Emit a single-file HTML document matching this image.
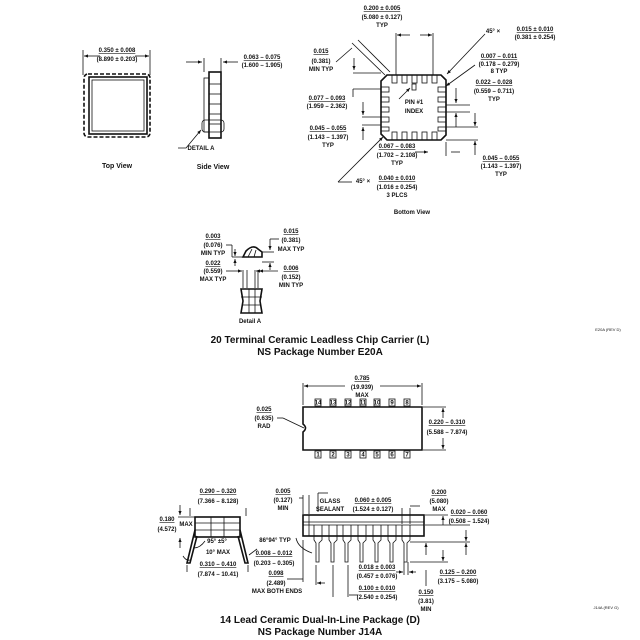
<!DOCTYPE html>
<html><head><style>
html,body{margin:0;padding:0;background:#fff}
svg{display:block}
text{font-family:"Liberation Sans",sans-serif;font-size:6px;font-weight:bold;fill:#111;text-anchor:middle}
.t{font-size:10px}
.v{font-size:7px}
.s{font-size:4px;font-weight:normal}
line,path,rect,polyline,polygon,circle{stroke:#111;stroke-width:0.8;fill:none}
.th{stroke-width:1.6}
</style></head><body>
<svg width="640" height="640" viewBox="0 0 640 640" xmlns="http://www.w3.org/2000/svg">
<defs><marker id="a" markerWidth="6" markerHeight="6" refX="5" refY="3" orient="auto"><path d="M0,1 L5,3 L0,5 z" style="fill:#111;stroke:none"/></marker></defs>

<!-- TOP VIEW -->
<text x="117" y="52" text-decoration="underline">0.350 ± 0.008</text>
<text x="117" y="61">(8.890 ± 0.203)</text>
<line x1="83" y1="50" x2="83" y2="75"/><line x1="150" y1="50" x2="150" y2="75"/>
<line x1="100" y1="56" x2="84" y2="56" marker-end="url(#a)"/><line x1="135" y1="56" x2="149" y2="56" marker-end="url(#a)"/>
<rect x="84" y="74" width="66" height="63" rx="4" class="th" stroke-dasharray="4,2"/>
<rect x="89" y="77" width="58" height="57" class="th"/>
<rect x="92" y="80" width="52" height="51"/>
<text x="117" y="168" class="v">Top View</text>

<!-- SIDE VIEW -->
<rect x="209" y="72" width="12" height="66" class="th"/>
<rect x="204" y="78" width="5" height="54"/>
<line x1="209" y1="84" x2="221" y2="84"/><line x1="209" y1="94" x2="221" y2="94"/><line x1="209" y1="104" x2="221" y2="104"/><line x1="209" y1="114" x2="221" y2="114"/><line x1="209" y1="124" x2="221" y2="124"/>
<rect x="202" y="120" width="22" height="12" rx="3"/>
<line x1="186" y1="62" x2="202" y2="62" marker-end="url(#a)"/><line x1="238" y1="62" x2="223" y2="62" marker-end="url(#a)"/>
<line x1="204" y1="58" x2="204" y2="72"/><line x1="221" y1="58" x2="221" y2="72"/>
<text x="262" y="59" text-decoration="underline">0.063 – 0.075</text>
<text x="262" y="67">(1.600 – 1.905)</text>
<polyline points="178,148 186,148 201,130" marker-end="url(#a)"/>
<text x="201" y="150">DETAIL A</text>
<text x="213" y="169" class="v">Side View</text>

<!-- BOTTOM VIEW -->
<polygon points="387,75 441,75 446,80 446,135 441,140 387,140 381,134 381,81" class="th"/>
<g>
<rect x="392" y="75" width="5" height="8"/><rect x="402" y="75" width="5" height="8"/><rect x="412" y="75" width="5" height="8"/><rect x="422" y="75" width="5" height="8"/><rect x="432" y="75" width="5" height="8"/>
<rect x="392" y="132" width="5" height="8"/><rect x="402" y="132" width="5" height="8"/><rect x="412" y="132" width="5" height="8"/><rect x="422" y="132" width="5" height="8"/><rect x="432" y="132" width="5" height="8"/>
<rect x="381" y="87" width="8" height="5"/><rect x="381" y="97" width="8" height="5"/><rect x="381" y="107" width="8" height="5"/><rect x="381" y="117" width="8" height="5"/><rect x="381" y="127" width="8" height="4"/>
<rect x="438" y="87" width="8" height="5"/><rect x="438" y="97" width="8" height="5"/><rect x="438" y="107" width="8" height="5"/><rect x="438" y="117" width="8" height="5"/><rect x="438" y="127" width="8" height="4"/>
</g>
<rect x="412" y="84" width="4" height="6"/>
<line x1="396" y1="33" x2="396" y2="75"/><line x1="433" y1="33" x2="433" y2="75"/>
<line x1="410" y1="35" x2="397" y2="35" marker-end="url(#a)"/><line x1="420" y1="35" x2="432" y2="35" marker-end="url(#a)"/>
<text x="382" y="10" text-decoration="underline">0.200 ± 0.005</text><text x="382" y="19">(5.080 ± 0.127)</text><text x="382" y="27">TYP</text>
<text x="493" y="33">45° ×</text>
<text x="535" y="31" text-decoration="underline">0.015 ± 0.010</text><text x="535" y="39">(0.381 ± 0.254)</text>
<line x1="485" y1="34" x2="447" y2="74" marker-end="url(#a)"/>
<text x="321" y="53" text-decoration="underline">0.015</text><text x="321" y="63">(0.381)</text><text x="321" y="71">MIN TYP</text>
<line x1="336" y1="62" x2="352" y2="48"/>
<line x1="352" y1="43" x2="385" y2="75"/><line x1="358" y1="40" x2="390" y2="72"/>
<line x1="354" y1="58" x2="354" y2="70" marker-end="url(#a)"/><line x1="353" y1="73" x2="381" y2="73"/>
<text x="499" y="58" text-decoration="underline">0.007 – 0.011</text><text x="499" y="66">(0.178 – 0.279)</text><text x="499" y="73">8 TYP</text>
<line x1="475" y1="65" x2="446" y2="86" marker-end="url(#a)"/>
<text x="494" y="84" text-decoration="underline">0.022 – 0.028</text><text x="494" y="93">(0.559 – 0.711)</text><text x="494" y="101">TYP</text>
<line x1="456" y1="88" x2="456" y2="103" marker-end="url(#a)"/><line x1="456" y1="127" x2="456" y2="113" marker-end="url(#a)"/>
<line x1="446" y1="105" x2="470" y2="105"/><line x1="446" y1="112" x2="470" y2="112"/>
<text x="327" y="100" text-decoration="underline">0.077 – 0.093</text><text x="327" y="108">(1.959 – 2.362)</text>
<line x1="353" y1="89" x2="381" y2="89"/><line x1="353" y1="89" x2="353" y2="97"/>
<line x1="399" y1="99" x2="410" y2="88" marker-end="url(#a)"/>
<text x="414" y="104">PIN #1</text><text x="414" y="113">INDEX</text>
<text x="328" y="130" text-decoration="underline">0.045 – 0.055</text><text x="328" y="139">(1.143 – 1.397)</text><text x="328" y="147">TYP</text>
<line x1="363" y1="102" x2="363" y2="115" marker-end="url(#a)"/><line x1="363" y1="140" x2="363" y2="127" marker-end="url(#a)"/>
<line x1="362" y1="117" x2="381" y2="117"/><line x1="362" y1="125" x2="381" y2="125"/>
<text x="397" y="148" text-decoration="underline">0.067 – 0.083</text><text x="397" y="157">(1.702 – 2.108)</text><text x="397" y="165">TYP</text>
<line x1="415" y1="152" x2="428" y2="152" marker-end="url(#a)"/>
<line x1="446" y1="127" x2="478" y2="127"/><line x1="446" y1="140" x2="478" y2="140"/>
<line x1="475" y1="113" x2="475" y2="126" marker-end="url(#a)"/><line x1="475" y1="155" x2="475" y2="141" marker-end="url(#a)"/>
<line x1="446" y1="142" x2="446" y2="156"/><line x1="451" y1="152" x2="460" y2="152"/>
<text x="501" y="160" text-decoration="underline">0.045 – 0.055</text><text x="501" y="168">(1.143 – 1.397)</text><text x="501" y="176">TYP</text>
<text x="363" y="183">45° ×</text>
<text x="397" y="180" text-decoration="underline">0.040 ± 0.010</text><text x="397" y="189">(1.016 ± 0.254)</text><text x="397" y="197">3 PLCS</text>
<line x1="338" y1="182" x2="352" y2="182"/><line x1="338" y1="182" x2="383" y2="137" marker-end="url(#a)"/>
<text x="412" y="214">Bottom View</text>

<!-- DETAIL A -->
<path d="M243,257 L246,251 Q253,244 258,249 L262,252 L262,257 Z" class="th"/>
<line x1="248" y1="257" x2="252" y2="249"/><line x1="254" y1="257" x2="256" y2="250"/>
<path d="M241,289 L262,289 L260,301 L262,313 L241,313 L243,301 Z" class="th"/>
<line x1="241" y1="297" x2="262" y2="297"/><line x1="242" y1="305" x2="261" y2="305"/><line x1="249" y1="289" x2="249" y2="313"/><line x1="255" y1="289" x2="255" y2="313"/>
<line x1="243" y1="270" x2="243" y2="288"/><line x1="247" y1="270" x2="247" y2="288"/><line x1="255" y1="270" x2="255" y2="288"/><line x1="258" y1="270" x2="258" y2="288"/>
<text x="213" y="238" text-decoration="underline">0.003</text><text x="213" y="247">(0.076)</text><text x="213" y="255">MIN TYP</text>
<line x1="226" y1="245" x2="232" y2="245"/><line x1="232" y1="245" x2="232" y2="257"/>
<line x1="235" y1="249" x2="235" y2="256" marker-end="url(#a)"/><line x1="235" y1="266" x2="235" y2="259" marker-end="url(#a)"/>
<line x1="232" y1="257" x2="243" y2="257"/>
<text x="213" y="265" text-decoration="underline">0.022</text><text x="213" y="273">(0.559)</text><text x="213" y="281">MAX TYP</text>
<line x1="226" y1="271" x2="242" y2="271" marker-end="url(#a)"/><line x1="263" y1="271" x2="256" y2="271" marker-end="url(#a)"/>
<text x="291" y="233" text-decoration="underline">0.015</text><text x="291" y="242">(0.381)</text><text x="291" y="251">MAX TYP</text>
<line x1="279" y1="239" x2="270" y2="239"/><line x1="270" y1="239" x2="270" y2="250" marker-end="url(#a)"/>
<line x1="262" y1="252" x2="274" y2="252"/><line x1="262" y1="262" x2="274" y2="262"/>
<line x1="270" y1="270" x2="270" y2="263" marker-end="url(#a)"/>
<text x="291" y="270" text-decoration="underline">0.006</text><text x="291" y="279">(0.152)</text><text x="291" y="287">MIN TYP</text>
<line x1="278" y1="271" x2="259" y2="271" marker-end="url(#a)"/>
<text x="250" y="323">Detail A</text>

<text x="320" y="343" class="t">20 Terminal Ceramic Leadless Chip Carrier (L)</text>
<text x="320" y="355" class="t">NS Package Number E20A</text>
<text x="608" y="331" class="s">E20A (REV D)</text>

<!-- DIP TOP -->
<path d="M303,407 L422,407 L422,450 L303,450 L303,432 Q308,428 303,424 Z" class="th"/>
<g>
<rect x="315" y="399" width="6" height="7"/><rect x="330" y="399" width="6" height="7"/><rect x="345" y="399" width="6" height="7"/><rect x="360" y="399" width="6" height="7"/><rect x="374" y="399" width="6" height="7"/><rect x="389" y="399" width="6" height="7"/><rect x="404" y="399" width="6" height="7"/>
<rect x="315" y="451" width="6" height="7"/><rect x="330" y="451" width="6" height="7"/><rect x="345" y="451" width="6" height="7"/><rect x="360" y="451" width="6" height="7"/><rect x="374" y="451" width="6" height="7"/><rect x="389" y="451" width="6" height="7"/><rect x="404" y="451" width="6" height="7"/>
</g>
<g style="font-size:4px;font-weight:normal">
<text x="318" y="404.5">14</text><text x="333" y="404.5">13</text><text x="348" y="404.5">12</text><text x="363" y="404.5">11</text><text x="377" y="404.5">10</text><text x="392" y="404.5">9</text><text x="407" y="404.5">8</text>
<text x="318" y="456.5">1</text><text x="333" y="456.5">2</text><text x="348" y="456.5">3</text><text x="363" y="456.5">4</text><text x="377" y="456.5">5</text><text x="392" y="456.5">6</text><text x="407" y="456.5">7</text>
</g>
<line x1="303" y1="383" x2="303" y2="405"/><line x1="422" y1="383" x2="422" y2="405"/>
<line x1="345" y1="386" x2="304" y2="386" marker-end="url(#a)"/><line x1="380" y1="386" x2="421" y2="386" marker-end="url(#a)"/>
<text x="362" y="380" text-decoration="underline">0.785</text><text x="362" y="389">(19.939)</text><text x="362" y="397">MAX</text>
<text x="264" y="411" text-decoration="underline">0.025</text><text x="264" y="420">(0.635)</text><text x="264" y="428">RAD</text>
<line x1="277" y1="418" x2="283" y2="418"/><line x1="283" y1="418" x2="304" y2="428"/>
<line x1="423" y1="407" x2="446" y2="407"/><line x1="423" y1="450" x2="446" y2="450"/>
<line x1="443" y1="418" x2="443" y2="408" marker-end="url(#a)"/><line x1="443" y1="438" x2="443" y2="449" marker-end="url(#a)"/>
<text x="447" y="424" text-decoration="underline">0.220 – 0.310</text><text x="447" y="434">(5.588 – 7.874)</text>

<!-- DIP END VIEW -->
<rect x="195" y="517" width="45" height="20" class="th"/>
<line x1="195" y1="523" x2="240" y2="523"/><line x1="195" y1="530" x2="240" y2="530"/>
<line x1="211" y1="517" x2="211" y2="537"/><line x1="224" y1="517" x2="224" y2="537"/>
<path d="M195,530 L187,563 L190,563 L197,536" class="th"/>
<path d="M240,530 L248,563 L245,563 L238,536" class="th"/>
<text x="218" y="493" text-decoration="underline">0.290 – 0.320</text><text x="218" y="503">(7.366 – 8.128)</text>
<line x1="190" y1="508" x2="190" y2="516"/><line x1="246" y1="508" x2="246" y2="516"/>
<text x="167" y="521" text-decoration="underline">0.180</text><text x="167" y="531">(4.572)</text><text x="186" y="526">MAX</text>
<line x1="180" y1="505" x2="180" y2="515" marker-end="url(#a)"/><line x1="180" y1="548" x2="180" y2="538" marker-end="url(#a)"/>
<line x1="178" y1="517" x2="195" y2="517"/>
<text x="217" y="543">95° ±5°</text><text x="218" y="554">10° MAX</text>
<path d="M205,541 Q200,548 194,548" /><path d="M183,556 Q186,561 190,560"/>
<text x="218" y="566" text-decoration="underline">0.310 – 0.410</text><text x="218" y="576">(7.874 – 10.41)</text>
<line x1="187" y1="565" x2="187" y2="572"/><line x1="248" y1="565" x2="248" y2="572"/>
<text x="274" y="555" text-decoration="underline">0.008 – 0.012</text><text x="274" y="565">(0.203 – 0.305)</text>
<line x1="257" y1="549" x2="249" y2="555"/>

<!-- DIP SIDE VIEW -->
<rect x="303" y="515" width="121" height="21" class="th"/>
<line x1="303" y1="522" x2="424" y2="522"/><line x1="303" y1="525" x2="424" y2="525"/>
<line x1="309" y1="515" x2="309" y2="536"/>
<g class="th">
<path d="M314,525 L314,540 L316,543 L316,562 L319,562 L319,543 L322,540 L322,525"/>
<path d="M329,525 L329,540 L331,543 L331,562 L334,562 L334,543 L337,540 L337,525"/>
<path d="M343,525 L343,540 L345,543 L345,562 L348,562 L348,543 L351,540 L351,525"/>
<path d="M358,525 L358,540 L360,543 L360,562 L363,562 L363,543 L366,540 L366,525"/>
<path d="M373,525 L373,540 L375,543 L375,562 L378,562 L378,543 L381,540 L381,525"/>
<path d="M388,525 L388,540 L390,543 L390,562 L393,562 L393,543 L396,540 L396,525"/>
<path d="M402,525 L402,540 L404,543 L404,562 L407,562 L407,543 L410,540 L410,525"/>
</g>
<text x="283" y="493" text-decoration="underline">0.005</text><text x="283" y="502">(0.127)</text><text x="283" y="510">MIN</text>
<line x1="299" y1="498" x2="303" y2="498"/><line x1="303" y1="495" x2="303" y2="514"/><line x1="309" y1="495" x2="309" y2="514"/>
<text x="330" y="503">GLASS</text><text x="330" y="511">SEALANT</text>
<line x1="318" y1="493" x2="318" y2="512"/><line x1="318" y1="493" x2="328" y2="493"/>
<text x="373" y="502" text-decoration="underline">0.060 ± 0.005</text><text x="373" y="511">(1.524 ± 0.127)</text>
<line x1="402" y1="508" x2="402" y2="524"/><line x1="410" y1="508" x2="410" y2="524"/>
<line x1="410" y1="506" x2="420" y2="506"/>
<text x="275" y="542">86°94° TYP</text>
<path d="M296,538 Q298,548 312,553"/>
<text x="276" y="575" text-decoration="underline">0.098</text><text x="276" y="585">(2.489)</text><text x="277" y="593">MAX BOTH ENDS</text>
<line x1="287" y1="579" x2="303" y2="579"/><line x1="303" y1="540" x2="303" y2="582"/>
<line x1="316" y1="565" x2="316" y2="585"/><line x1="325" y1="583" x2="317" y2="583" marker-end="url(#a)"/>
<text x="377" y="569" text-decoration="underline">0.018 ± 0.003</text><text x="377" y="578">(0.457 ± 0.076)</text>
<line x1="404" y1="562" x2="404" y2="575"/><line x1="408" y1="562" x2="408" y2="575"/>
<line x1="396" y1="572" x2="403" y2="572" marker-end="url(#a)"/><line x1="416" y1="572" x2="409" y2="572" marker-end="url(#a)"/>
<text x="377" y="590" text-decoration="underline">0.100 ± 0.010</text><text x="377" y="599">(2.540 ± 0.254)</text>
<line x1="348" y1="565" x2="348" y2="597"/><line x1="333" y1="565" x2="333" y2="597"/>
<line x1="349" y1="595" x2="358" y2="595"/>
<text x="439" y="494" text-decoration="underline">0.200</text><text x="439" y="503">(5.080)</text><text x="439" y="511">MAX</text>
<line x1="425" y1="515" x2="448" y2="515"/><line x1="410" y1="542" x2="470" y2="542"/><line x1="410" y1="562" x2="448" y2="562"/><line x1="425" y1="525" x2="470" y2="525"/>
<line x1="443" y1="525" x2="443" y2="516" marker-end="url(#a)"/><line x1="443" y1="550" x2="443" y2="561" marker-end="url(#a)"/>
<text x="469" y="514" text-decoration="underline">0.020 – 0.060</text><text x="469" y="523">(0.508 – 1.524)</text>
<line x1="466" y1="530" x2="466" y2="541" marker-end="url(#a)"/><line x1="466" y1="555" x2="466" y2="543" marker-end="url(#a)"/>
<text x="458" y="574" text-decoration="underline">0.125 – 0.200</text><text x="458" y="583">(3.175 – 5.080)</text>
<line x1="426" y1="555" x2="426" y2="543" marker-end="url(#a)"/><line x1="426" y1="570" x2="426" y2="586"/>
<text x="426" y="594" text-decoration="underline">0.150</text><text x="426" y="603">(3.81)</text><text x="426" y="611">MIN</text>
<text x="606" y="609" class="s">J14A (REV G)</text>

<text x="320" y="623" class="t">14 Lead Ceramic Dual-In-Line Package (D)</text>
<text x="320" y="635" class="t">NS Package Number J14A</text>
</svg>
</body></html>
